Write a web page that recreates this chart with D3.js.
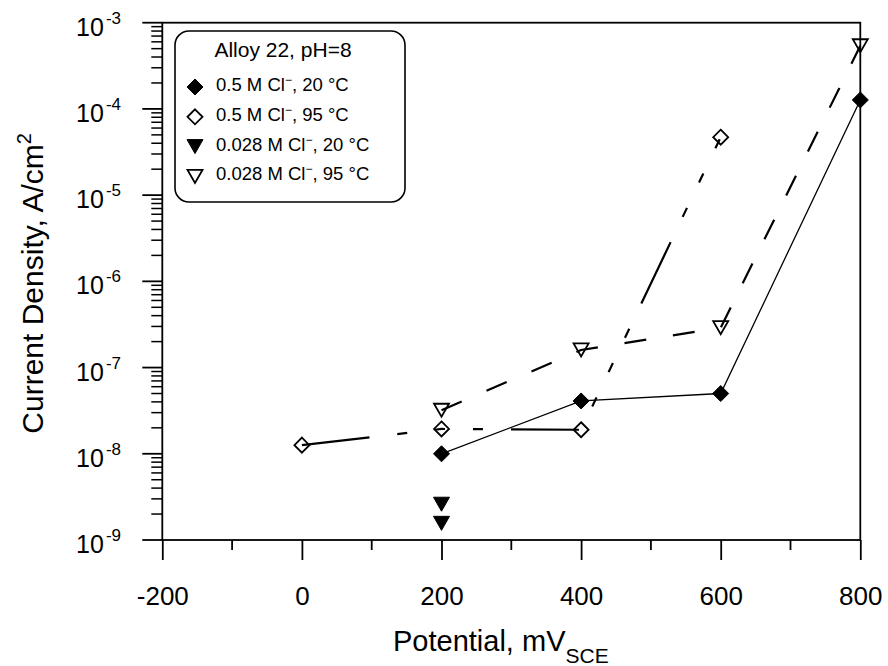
<!DOCTYPE html>
<html>
<head>
<meta charset="utf-8">
<script src="https://cdn.jsdelivr.net/npm/d3@7"></script>
<style>
  body { margin: 0; background: #fff; }
  svg text { font-family: Arial, "Liberation Sans", sans-serif; fill: #000; }
</style>
</head>
<body>
<svg id="chart" width="888" height="666"></svg>
<script>
// data
const pot_05M_20C = [200, 400, 600, 800];
const cd_05M_20C = [1.0e-8, 4.1e-8, 5.0e-8, 1.27e-4];
const pot_05M_95C = [0, 200, 400, 600];
const cd_05M_95C = [1.26e-8, 1.94e-8, 1.9e-8, 4.7e-5];
const pot_0028M_20C = [200, 200];
const cd_0028M_20C = [2.6e-9, 1.56e-9];
const pot_0028M_95C = [200, 400, 600, 800];
const cd_0028M_95C = [3.2e-8, 1.6e-7, 2.9e-7, 5.4e-4];

const xTicks = [-200, 0, 200, 400, 600, 800];
const xMinor = [-100, 100, 300, 500, 700];
const yExps = [-9, -8, -7, -6, -5, -4, -3];
const legendLabels = ["0.5 M Cl", "0.5 M Cl", "0.028 M Cl", "0.028 M Cl"];
const legendTemps = [", 20 °C", ", 95 °C", ", 20 °C", ", 95 °C"];

const L = 162.3, R = 860.3, T = 22.7, B = 540;
const svg = d3.select("#chart");

const x = d3.scaleLinear().domain([-200, 800]).range([L, R]);
const y = d3.scaleLog().domain([1e-9, 1e-3]).range([B, T]);

// frame
svg.append("rect").attr("x", L).attr("y", T).attr("width", R - L).attr("height", B - T)
  .attr("fill", "none").attr("stroke", "#000").attr("stroke-width", 1.8);

// x axis ticks
const xAxis = svg.append("g").attr("transform", "translate(0," + B + ")");
xAxis.call(d3.axisBottom(x).tickValues(xTicks).tickSize(20).tickFormat(d => String(d)));
xAxis.select(".domain").remove();
xAxis.selectAll(".tick line").attr("stroke-width", 1.8);
xAxis.selectAll(".tick text").attr("font-size", 26).attr("y", 65).attr("dy", 0)
  .style("font-family", "Arial, 'Liberation Sans', sans-serif");
svg.append("g").selectAll("line").data(xMinor).join("line")
  .attr("x1", d => x(d)).attr("x2", d => x(d)).attr("y1", B).attr("y2", B + 10)
  .attr("stroke", "#000").attr("stroke-width", 1.8);

// y axis ticks (log)
const yMinor = [];
yExps.slice(0, -1).forEach(e => { for (let k = 2; k <= 9; k++) yMinor.push(k * Math.pow(10, e)); });
svg.append("g").selectAll("line").data(yMinor).join("line")
  .attr("x1", L - 11).attr("x2", L).attr("y1", d => y(d)).attr("y2", d => y(d))
  .attr("stroke", "#000").attr("stroke-width", 1.5);
svg.append("g").selectAll("line").data(yExps).join("line")
  .attr("x1", L - 20).attr("x2", L).attr("y1", d => y(Math.pow(10, d))).attr("y2", d => y(Math.pow(10, d)))
  .attr("stroke", "#000").attr("stroke-width", 1.8);
const yl = svg.append("g").selectAll("text").data(yExps).join("text")
  .attr("x", 121).attr("y", d => y(Math.pow(10, d)) + 13)
  .attr("text-anchor", "end").attr("font-size", 25);
yl.append("tspan").text("10");
yl.append("tspan").attr("font-size", 17).attr("dx", 2).attr("dy", -12).text(d => "-" + (-d));

// axis titles
const xt = svg.append("text").attr("x", 393).attr("y", 651).attr("font-size", 29);
xt.append("tspan").text("Potential, mV");
xt.append("tspan").attr("font-size", 21).attr("dy", 12).text("SCE");

const yt = svg.append("text").attr("transform", "translate(43," + ((T + B) / 2 + 2) + ") rotate(-90)")
  .attr("text-anchor", "middle").attr("font-size", 30);
yt.append("tspan").text("Current Density, A/cm");
yt.append("tspan").attr("font-size", 20).attr("dy", -12).text("2");

// symbols
const diamond = "M0,-8L8,0L0,8L-8,0Z";
const openDiamond = "M0,-7.5L7.5,0L0,7.5L-7.5,0Z";
const triDown = "M-8,-7L8,-7L0,7Z";
const openTri = "M-7.5,-6.5L7.5,-6.5L0,6.5Z";

const series = [
  { px: pot_05M_20C, cd: cd_05M_20C, sym: diamond, fill: "#000", line: true, dash: null, lw: 1.3 },
  { px: pot_05M_95C, cd: cd_05M_95C, sym: openDiamond, fill: "none", line: true, dash: "68,28,10,28,10,28,10,28", lw: 2.2 },
  { px: pot_0028M_20C, cd: cd_0028M_20C, sym: triDown, fill: "#000", line: false },
  { px: pot_0028M_95C, cd: cd_0028M_95C, sym: openTri, fill: "none", line: true, dash: "22,27", lw: 2.2 }
];

const line = d3.line().x(d => x(d[0])).y(d => y(d[1]));

series.forEach(s => {
  const pts = s.px.map((p, i) => [p, s.cd[i]]);
  if (s.line) {
    svg.append("path").attr("d", line(pts)).attr("fill", "none").attr("stroke", "#000")
      .attr("stroke-width", s.lw).attr("stroke-dasharray", s.dash);
  }
  svg.append("g").selectAll("path").data(pts).join("path")
    .attr("d", s.sym).attr("transform", d => "translate(" + x(d[0]) + "," + y(d[1]) + ")")
    .attr("fill", s.fill).attr("stroke", "#000").attr("stroke-width", s.fill === "none" ? 1.8 : 1);
});

// legend
const lg = svg.append("g");
lg.append("rect").attr("x", 175).attr("y", 31).attr("width", 230).attr("height", 171).attr("rx", 14)
  .attr("fill", "#fff").attr("stroke", "#000").attr("stroke-width", 1.6);
lg.append("text").attr("x", 283).attr("y", 56.5).attr("text-anchor", "middle").attr("font-size", 21)
  .text("Alloy 22, pH=8");
const rows = lg.selectAll("g.row").data(series).join("g").attr("class", "row")
  .attr("transform", (d, i) => "translate(195," + (87 + i * 29.8) + ")");
rows.append("path").attr("d", d => d.sym).attr("fill", d => d.fill).attr("stroke", "#000")
  .attr("stroke-width", d => d.fill === "none" ? 1.8 : 1);
const rt = rows.append("text").attr("x", 21).attr("y", 4).attr("font-size", 18.5);
rt.append("tspan").text((d, i) => legendLabels[i]);
rt.append("tspan").attr("font-size", 12).attr("dy", -7).text("−");
rt.append("tspan").attr("dy", 7).text((d, i) => legendTemps[i]);
</script>
</body>
</html>
